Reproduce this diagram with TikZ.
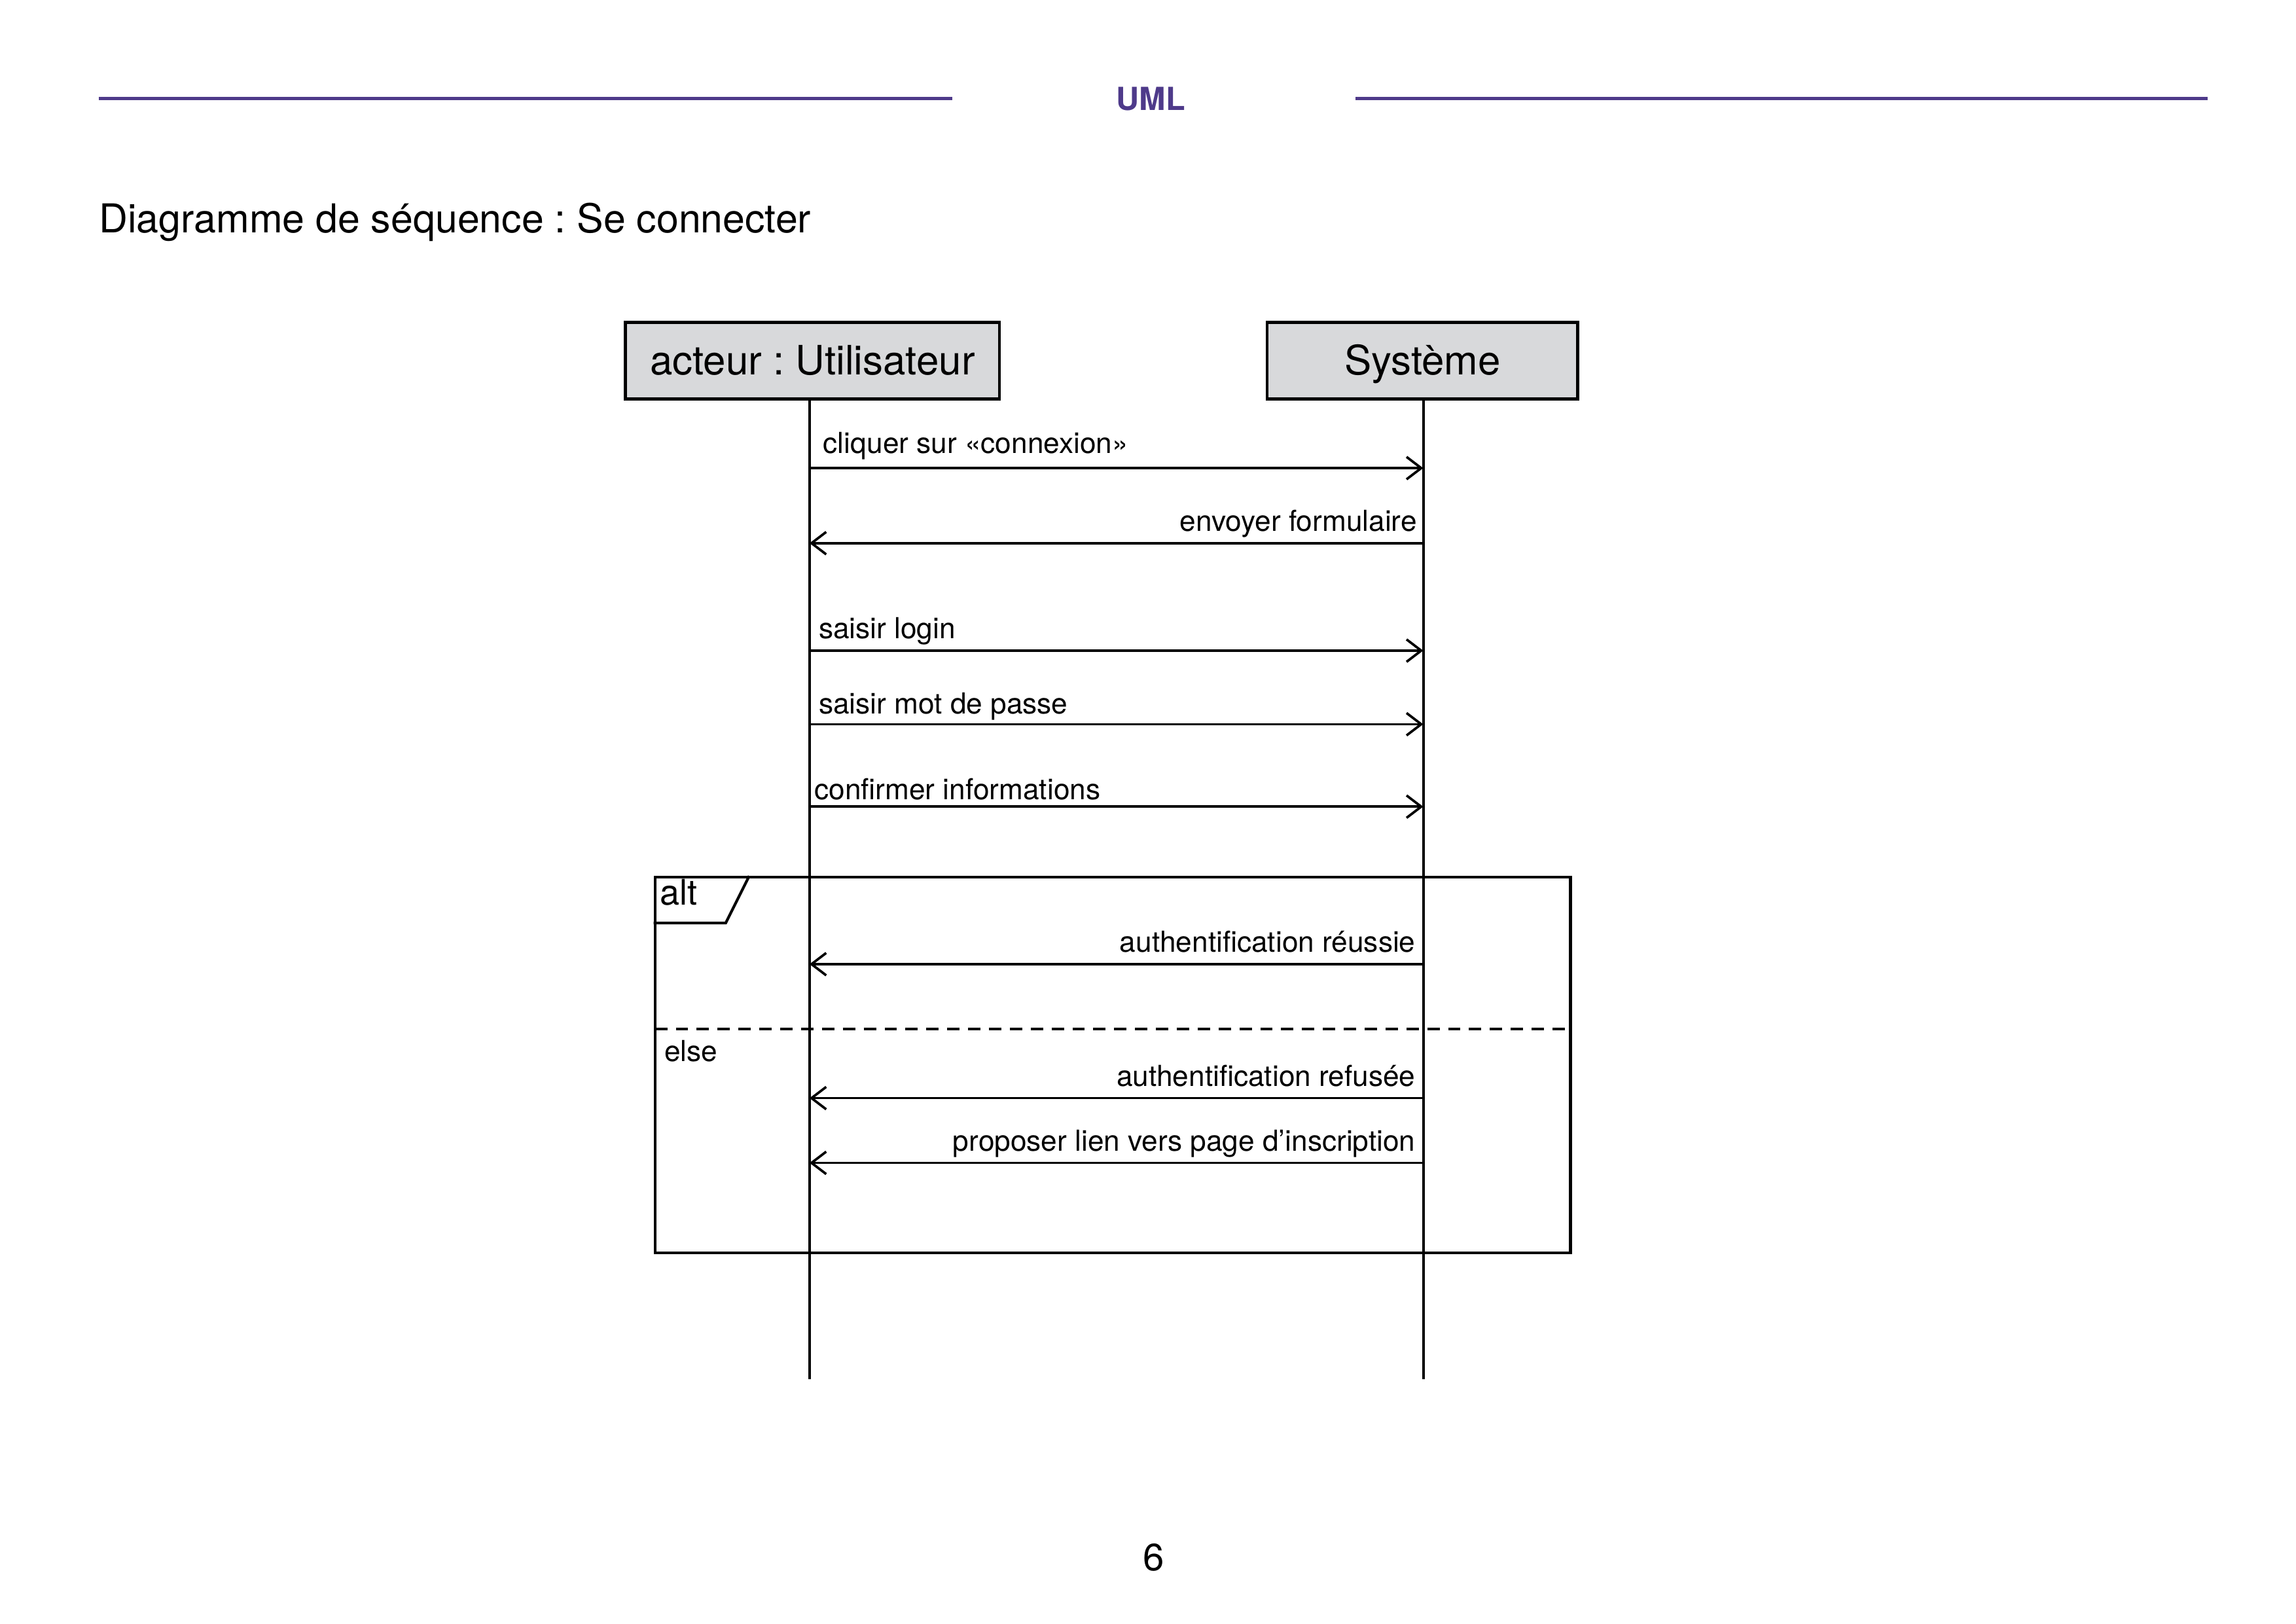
\documentclass[tikz,border=0pt]{standalone}
\usepackage{fontspec}
\setmainfont{TeX Gyre Heros}
\usetikzlibrary{arrows.meta}
\frenchspacing
\definecolor{umlpurple}{RGB}{78,58,138}
\definecolor{boxgray}{RGB}{216,217,219}
\tikzset{
  lifebox/.style={draw,fill=boxgray,line width=1.1pt,inner sep=0pt,
    minimum height=9.9mm,text height=3.6mm,text depth=0mm,
    font=\fontsize{14.9}{17}\selectfont},
  lifeline/.style={line width=0.95pt},
  msg/.style={-{Straight Barb[length=1.9mm,width=2.9mm]},line width=0.9pt},
  lbl/.style={inner sep=0pt,font=\fontsize{10.65}{12}\selectfont},
  frame/.style={draw,line width=1pt,inner sep=0pt},
}
\begin{document}
\begin{tikzpicture}[x=0.19038mm,y=-0.19038mm]
  \useasboundingbox (0,0) rectangle (1560,1103);
  % en-tete
  \draw[umlpurple,line width=1.1pt] (67,67) -- (647,67);
  \draw[umlpurple,line width=1.1pt] (921,67) -- (1500,67);
  \node[anchor=base,inner sep=0pt,text=umlpurple,font=\fontsize{11.7}{14}\selectfont\bfseries]
    (head) at (782,75) {UML};
  \node[anchor=base west,inner sep=0pt,font=\fontsize{14.65}{17}\selectfont]
    (title) at (67,158) {Diagramme de séquence : Se connecter};

  % participants
  \node[lifebox,minimum width=48.36mm] (user) at (552,245) {acteur : Utilisateur};
  \node[lifebox,minimum width=40.17mm] (sys) at (966.5,245) {Système};
  \coordinate (utop) at (550,271);
  \coordinate (ubot) at (550,937);
  \coordinate (stop) at (967,271);
  \coordinate (sbot) at (967,937);
  \draw[lifeline] (utop) -- (ubot);
  \draw[lifeline] (stop) -- (sbot);

  % fragment alt
  \node[frame,minimum width=118.42mm,minimum height=48.55mm] (alt) at (756,723.5) {};
  \draw[line width=1pt] (alt.north west) ++(0,32) -- ++(49,0) -- ++(16,-32);
  \node[anchor=base west,inner sep=0pt,font=\fontsize{13}{15}\selectfont] (altlbl) at (448,615) {alt};
  \draw[line width=0.9pt,dash pattern=on 1.6mm off 1.1mm] (445,699) -- (1067,699);
  \node[lbl,anchor=base west] (elselbl) at (451,721) {else};

  % messages vers le systeme
  \foreach \n/\y/\lx/\ly/\t in {1/318/559/308/{cliquer sur «connexion»},
      3/442/556/434/{saisir login},
      4/492/556/485/{saisir mot de passe},
      5/548/553/543/{confirmer informations}}
  {
    \coordinate (u\n) at (550,\y);
    \coordinate (s\n) at (967,\y);
    \draw[msg] (u\n) -- (s\n);
    \node[lbl,anchor=base west] (t\n) at (\lx,\ly) {\t};
  }
  % messages vers l'utilisateur
  \foreach \n/\y/\lx/\ly/\t in {2/369/963/361/{envoyer formulaire},
      7/655/962/647/{authentification réussie},
      10/746/962/738/{authentification refusée},
      11/790/962/782/{proposer lien vers page d’inscription}}
  {
    \coordinate (u\n) at (550,\y);
    \coordinate (s\n) at (967,\y);
    \draw[msg] (s\n) -- (u\n);
    \node[lbl,anchor=base east] (t\n) at (\lx,\ly) {\t};
  }

  \node[anchor=base,inner sep=0pt,font=\fontsize{14}{16}\selectfont] (page) at (784,1067) {6};
\end{tikzpicture}
\end{document}
